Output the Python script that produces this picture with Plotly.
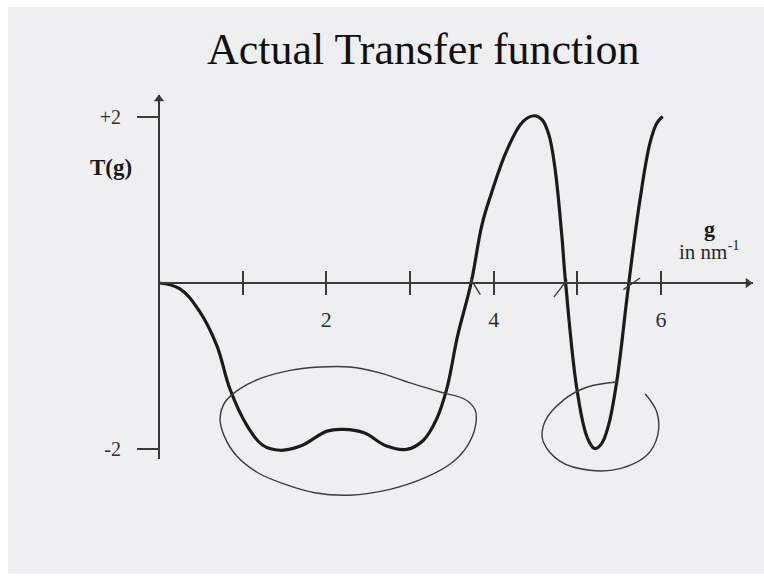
import plotly.graph_objects as go

# ---- data ---------------------------------------------------------------
# T(g) sampled along the drawn transfer function (g in nm^-1)
g_vals = [0.00, 0.25, 0.49, 0.69, 0.85, 1.05, 1.24, 1.45, 1.69, 2.01, 2.20,
          2.45, 2.72, 2.96, 3.16, 3.32, 3.44, 3.57, 3.73, 3.86, 3.97, 4.16,
          4.35, 4.49, 4.58, 4.66, 4.73, 4.81, 4.86, 5.00, 5.12, 5.21, 5.29,
          5.37, 5.47, 5.61, 5.75, 5.87, 5.95, 6.02]
t_vals = [0.00, -0.07, -0.35, -0.75, -1.28, -1.71, -1.95, -2.01, -1.96, -1.78,
          -1.76, -1.80, -1.96, -2.00, -1.89, -1.63, -1.27, -0.63, 0.00, 0.70,
          1.07, 1.60, 1.94, 2.01, 1.96, 1.78, 1.40, 0.62, 0.00, -1.31, -1.86,
          -1.99, -1.93, -1.72, -1.19, -0.04, 1.01, 1.69, 1.92, 2.00]

# hand-drawn loop around the first (double) minimum
loop1_g = [0.97, 1.23, 1.57, 1.92, 2.28, 2.64, 3.00, 3.36, 3.66, 3.78, 3.78,
           3.69, 3.50, 3.18, 2.76, 2.28, 1.86, 1.51, 1.18, 0.93, 0.78, 0.73,
           0.79, 0.97]
loop1_t = [-1.27, -1.14, -1.05, -1.01, -1.01, -1.08, -1.20, -1.31, -1.40,
           -1.53, -1.73, -1.95, -2.16, -2.34, -2.48, -2.55, -2.52, -2.42,
           -2.28, -2.08, -1.84, -1.63, -1.43, -1.27]

# hand-drawn (open) loop around the second minimum
loop2_g = [5.47, 5.12, 4.83, 4.61, 4.59, 4.79, 5.15, 5.51, 5.83, 5.96, 5.95, 5.81]
loop2_t = [-1.19, -1.25, -1.41, -1.67, -1.90, -2.14, -2.25, -2.23, -2.07,
           -1.83, -1.55, -1.33]

# small strokes marking the zero crossings
mark_g = [[3.72, 3.84], [4.88, 4.72], [5.55, 5.75]]
mark_t = [[0.06, -0.14], [0.04, -0.17], [-0.08, 0.06]]

x_ticks = [1, 2, 3, 4, 5, 6]
x_tick_text = ["", "2", "", "4", "", "6"]
y_ticks = [-2, 2]
y_tick_text = ["-2", "+2"]

# ---- layout constants ---------------------------------------------------
FONT = "Liberation Serif"
INK = "#1b1b1b"
AXIS = "#3a3a3a"
SHEET = "#efeff1"

X_RANGE = [-1.805, 7.231]      # full-canvas data window
Y_RANGE = [-3.497, 3.317]
AX_X = [0.0, 7.10]             # drawn extent of the g axis
AX_Y = [-2.11, 2.26]           # drawn extent of the T axis


def frac(v, rng):
    return (v - rng[0]) / (rng[1] - rng[0])


fig = go.Figure()

# empty traces that carry the drawn axes
fig.add_trace(go.Scatter(x=[], y=[], xaxis="x2", yaxis="y2", showlegend=False))
fig.add_trace(go.Scatter(x=[], y=[], xaxis="x3", yaxis="y2", showlegend=False))

# transfer function
fig.add_trace(go.Scatter(
    x=g_vals, y=t_vals, mode="lines",
    line=dict(color=INK, width=3.2, shape="spline", smoothing=1.1),
    hoverinfo="skip", showlegend=False))

# loops
for lx, ly in ((loop1_g, loop1_t), (loop2_g, loop2_t)):
    fig.add_trace(go.Scatter(
        x=lx, y=ly, mode="lines",
        line=dict(color="#3c3c3c", width=1.4, shape="spline", smoothing=1.0),
        hoverinfo="skip", showlegend=False))

# zero-crossing strokes
for mx, my in zip(mark_g, mark_t):
    fig.add_trace(go.Scatter(
        x=mx, y=my, mode="lines", line=dict(color="#3c3c3c", width=1.4),
        hoverinfo="skip", showlegend=False))

# arrow heads at the ends of both axes
fig.add_trace(go.Scatter(
    x=[AX_X[1] - 0.06, 0.0], y=[0.0, AX_Y[1] - 0.05], mode="markers",
    marker=dict(symbol=["triangle-right", "triangle-up"], size=9, color=AXIS,
                line=dict(width=0)),
    hoverinfo="skip", showlegend=False))

hidden = dict(visible=False, showgrid=False, zeroline=False, fixedrange=True)
x_dom = [frac(AX_X[0], X_RANGE), frac(AX_X[1], X_RANGE)]
y_dom = [frac(AX_Y[0], Y_RANGE), frac(AX_Y[1], Y_RANGE)]

fig.update_layout(
    width=764, height=576,
    margin=dict(l=8, r=0, t=7, b=0),
    paper_bgcolor="white",
    plot_bgcolor="rgba(0,0,0,0)",
    shapes=[dict(type="rect", xref="paper", yref="paper", x0=0, x1=1, y0=0, y1=1,
                 fillcolor=SHEET, line=dict(width=0), layer="below")],
    title=dict(text="Actual Transfer function", x=0.554, y=0.916,
               xanchor="center", yanchor="middle",
               font=dict(family=FONT, size=44, color="#111111")),
    xaxis=dict(range=X_RANGE, domain=[0, 1], **hidden),
    yaxis=dict(range=Y_RANGE, domain=[0, 1], **hidden),
    # g axis: line, downward ticks and labels
    xaxis2=dict(
        range=AX_X, domain=x_dom,
        anchor="free", position=frac(0.0, Y_RANGE),
        showline=True, linecolor=AXIS, linewidth=2,
        showgrid=False, zeroline=False,
        tickmode="array", tickvals=x_ticks, ticktext=x_tick_text,
        ticks="outside", ticklen=11, tickwidth=2, tickcolor=AXIS,
        ticklabelstandoff=6,
        tickfont=dict(family=FONT, size=22, color="#2e2e2e"),
        fixedrange=True),
    # upward half of the g-axis ticks
    xaxis3=dict(
        range=AX_X, domain=x_dom, overlaying="x2",
        anchor="free", position=frac(0.0, Y_RANGE),
        showline=False, showgrid=False, zeroline=False,
        tickmode="array", tickvals=x_ticks, showticklabels=False,
        ticks="inside", ticklen=12, tickwidth=2, tickcolor=AXIS,
        fixedrange=True),
    # T axis
    yaxis2=dict(
        range=AX_Y, domain=y_dom,
        anchor="free", position=frac(0.0, X_RANGE),
        showline=True, linecolor=AXIS, linewidth=2,
        showgrid=False, zeroline=False,
        tickmode="array", tickvals=y_ticks, ticktext=y_tick_text,
        ticks="outside", ticklen=21, tickwidth=2, tickcolor=AXIS,
        ticklabelstandoff=12,
        tickfont=dict(family=FONT, size=20, color="#2e2e2e"),
        fixedrange=True),
    annotations=[
        dict(text="<b>T(g)</b>", x=-0.574, y=1.39, xref="x", yref="y",
             showarrow=False, font=dict(family=FONT, size=23, color="#1a1a1a")),
        dict(text="<b>g</b>", x=6.585, y=0.66, xref="x", yref="y",
             showarrow=False, font=dict(family=FONT, size=22, color="#1a1a1a")),
        dict(text="in nm<sup>-1</sup>", x=6.585, y=0.39, xref="x", yref="y",
             showarrow=False, font=dict(family=FONT, size=21, color="#2a2a2a")),
    ],
)

fig.write_html("out.html")
